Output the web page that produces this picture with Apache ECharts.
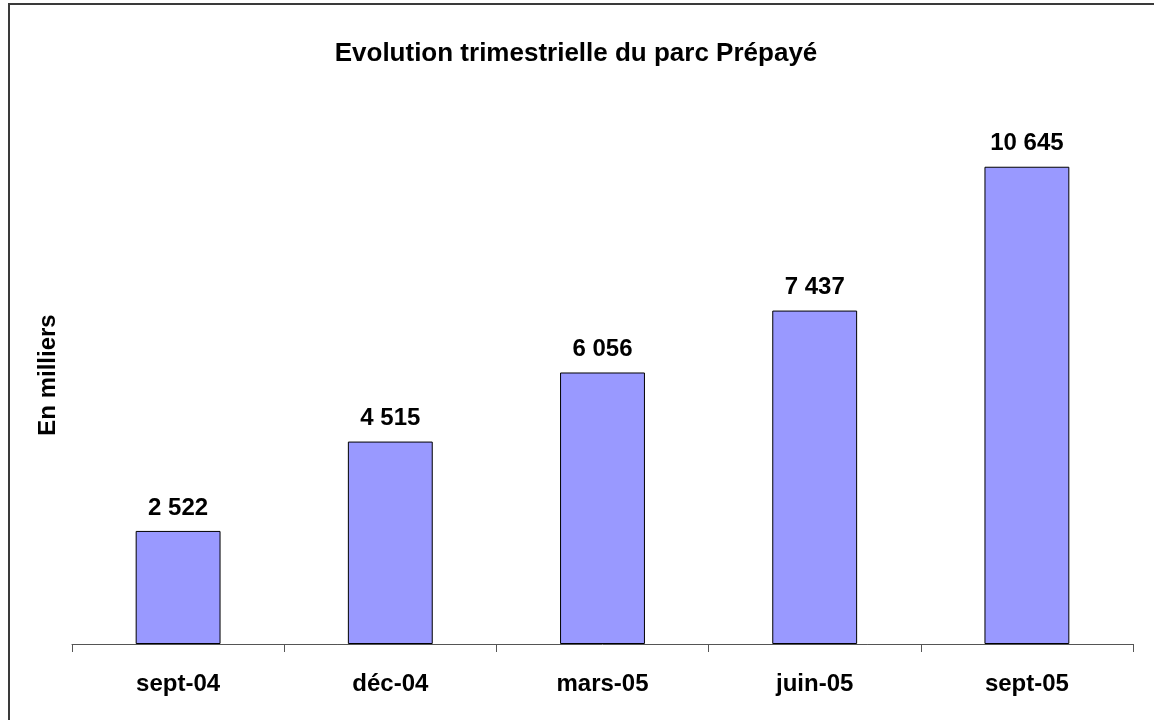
<!DOCTYPE html>
<html>
<head>
<meta charset="utf-8">
<script src="https://cdn.jsdelivr.net/npm/echarts@6/dist/echarts.min.js"></script>
<style>
  html, body { margin: 0; padding: 0; background: #fff; overflow: hidden; }
  .frame {
    position: absolute; left: 8px; top: 3px;
    width: 1300px; height: 900px;
    border: 2px solid #3a3a3a;
  }
  #chart { position: absolute; left: 0; top: 0; width: 1154px; height: 720px; }
</style>
</head>
<body>
<div class="frame"></div>
<div id="chart"></div>
<script>
  // données (en milliers)
  const categories = ['sept-04', 'déc-04', 'mars-05', 'juin-05', 'sept-05'];
  const parcValues = [2522, 4515, 6056, 7437, 10645];

  const fontFam = '"Liberation Sans", Arial, sans-serif';
  const fmt = v => String(v).replace(/\B(?=(\d{3})+(?!\d))/g, ' ');

  let myChart = echarts.init(document.getElementById('chart'));
  let option = {
    animation: false,
    title: {
      text: 'Evolution trimestrielle du parc Prépayé',
      left: 571,
      textAlign: 'center',
      top: 36,
      textStyle: { fontFamily: fontFam, fontSize: 26, fontWeight: 'bold', color: '#000' }
    },
    grid: { left: 72, right: 21, top: 106, bottom: 76 },
    xAxis: {
      type: 'category',
      data: categories,
      boundaryGap: true,
      axisLine: { lineStyle: { color: '#555', width: 1 } },
      axisTick: { show: true, length: 8, lineStyle: { color: '#555' } },
      axisLabel: {
        margin: 28,
        fontFamily: fontFam, fontSize: 24, fontWeight: 'bold', color: '#000'
      }
    },
    yAxis: {
      type: 'value',
      min: 0,
      max: 12000,
      name: 'En milliers',
      nameLocation: 'middle',
      nameRotate: 90,
      nameGap: 12,
      nameTextStyle: { fontFamily: fontFam, fontSize: 24, fontWeight: 'bold', color: '#000' },
      axisLine: { show: false },
      axisTick: { show: false },
      axisLabel: { show: false },
      splitLine: { show: false }
    },
    series: [
      {
        name: 'Parc Prépayé',
        type: 'bar',
        data: parcValues,
        barWidth: '40%',
        itemStyle: { color: '#9999ff', borderColor: '#000', borderWidth: 1 },
        label: {
          show: true,
          position: 'top',
          distance: 11,
          formatter: p => fmt(p.value),
          fontFamily: fontFam, fontSize: 24, fontWeight: 'bold', color: '#000'
        }
      }
    ]
  };
  option && myChart.setOption(option);
</script>
</body>
</html>
